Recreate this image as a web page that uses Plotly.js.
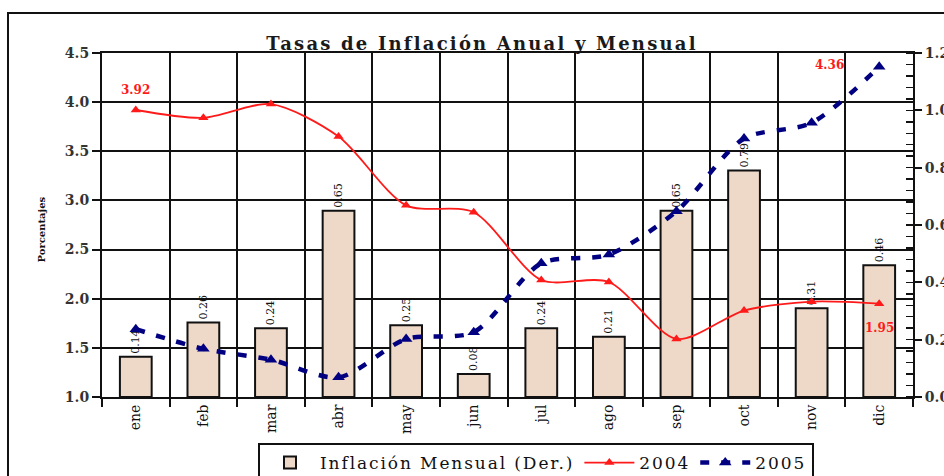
<!DOCTYPE html>
<html>
<head>
<meta charset="utf-8">
<script src="https://cdn.plot.ly/plotly-3.0.1.min.js"></script>
<style>
html,body{margin:0;padding:0;background:#fff;}
#chart{width:944px;height:476px;}
.gtitle{letter-spacing:2.2px;}
.legendtext{letter-spacing:1.9px;}
</style>
</head>
<body>
<div id="chart"></div>
<script>
const months = ["ene","feb","mar","abr","may","jun","jul","ago","sep","oct","nov","dic"];
const mensual = [0.14,0.26,0.24,0.65,0.25,0.08,0.24,0.21,0.65,0.79,0.31,0.46];
const anual2004 = [3.92,3.84,3.98,3.65,2.95,2.88,2.19,2.17,1.59,1.88,1.97,1.95];
const anual2005 = [1.69,1.49,1.38,1.20,1.59,1.66,2.36,2.45,2.89,3.63,3.79,4.36];
const leftTicks = [1.0,1.5,2.0,2.5,3.0,3.5,4.0,4.5];
const rightTicks = [0.0,0.2,0.4,0.6,0.8,1.0,1.2];

const serif = "DejaVu Serif, Liberation Serif, serif";
const RED = "#FF1A1A", NAVY = "#000080";

const traces = [
  {
    type: "bar", x: months, y: mensual, yaxis: "y", name: "Inflación Mensual (Der.)",
    width: 0.47,
    marker: {color: "#EED8C8", line: {color: "#111", width: 2}},
    text: mensual.map(v=>v.toFixed(2)), textposition: "outside", textangle: -90,
    textfont: {family: serif, size: 11, color: "#111"}, cliponaxis: false
  },
  {
    type: "scatter", mode: "lines+markers", x: months, y: anual2004, yaxis: "y2", name: "2004",
    line: {color: RED, width: 1.8, shape: "spline", smoothing: 0.8},
    marker: {symbol: "triangle-up", size: 9, color: RED}
  },
  {
    type: "scatter", mode: "lines+markers", x: months, y: anual2005, yaxis: "y2", name: "2005",
    line: {color: NAVY, width: 4.5, dash: "9px,12px", shape: "spline", smoothing: 0.8},
    marker: {symbol: "triangle-up", size: 11, color: NAVY}
  }
];

const L = 102, R = 913, T = 53, B = 397, W = 944, H = 476;
const pw = R - L, ph = B - T;
const px = x => (x - L) / pw;
const py = y => (B - y) / ph;
const last = months.length - 1;
const labFont = {family: serif, size: 12, color: RED, weight: "bold"};

const layout = {
  width: W, height: H,
  margin: {l: L, r: W - R, t: T, b: H - B, autoexpand: false},
  paper_bgcolor: "#fff", plot_bgcolor: "#fff",
  showlegend: true,
  title: {
    text: "Tasas de Inflación Anual y Mensual",
    font: {family: serif, size: 18, color: "#1a1a1a", weight: "bold"},
    x: 482 / W, xref: "container", xanchor: "center",
    y: 1 - 44 / H, yref: "container", yanchor: "middle"
  },
  xaxis: {
    type: "category", categoryorder: "array", categoryarray: months,
    tickson: "boundaries", showgrid: true, gridcolor: "#111", gridwidth: 2,
    ticks: "outside", ticklen: 8, tickwidth: 2, tickcolor: "#111",
    tickangle: -90, tickfont: {family: serif, size: 14, color: "#111"},
    showline: true, linecolor: "#111", linewidth: 2, mirror: true,
    range: [-0.5, 11.5], automargin: false
  },
  yaxis: {
    side: "right", range: [0, 1.2], tickvals: rightTicks, tickformat: ".1f",
    showgrid: false, zeroline: false,
    ticks: "outside", ticklen: 7, tickwidth: 2, tickcolor: "#111",
    minor: {dtick: 0.04, ticks: "inside", ticklen: 7, tickwidth: 1.5, tickcolor: "#111", showgrid: false},
    tickfont: {family: serif, size: 14, color: "#333", weight: "bold"},
    showline: true, linecolor: "#111", linewidth: 2, automargin: false
  },
  yaxis2: {
    side: "left", overlaying: "y", range: [1, 4.5], tickvals: leftTicks, tickformat: ".1f",
    showgrid: true, gridcolor: "#111", gridwidth: 2, zeroline: false,
    ticks: "outside", ticklen: 8, tickwidth: 2, tickcolor: "#111",
    tickfont: {family: serif, size: 14, color: "#333", weight: "bold"},
    showline: true, linecolor: "#111", linewidth: 2, automargin: false
  },
  legend: {
    orientation: "h", x: px(258), xanchor: "left", y: py(443), yanchor: "top",
    bordercolor: "#111", borderwidth: 2, bgcolor: "#fff", itemwidth: 50,
    font: {family: serif, size: 17, color: "#111"}, traceorder: "normal"
  },
  annotations: [
    {text: "Porcentajes", textangle: -90, xref: "paper", yref: "paper",
     x: px(33), y: py(230), showarrow: false,
     font: {family: serif, size: 10, color: "#111", weight: "bold"}},
    {text: anual2004[0].toFixed(2), xref: "x", yref: "y2", x: months[0], y: anual2004[0],
     showarrow: false, yshift: 20, font: labFont},
    {text: anual2004[last].toFixed(2), xref: "x", yref: "y2", x: months[last], y: anual2004[last],
     showarrow: false, yshift: -24, font: labFont},
    {text: anual2005[last].toFixed(2), xref: "x", yref: "y2", x: months[last], y: anual2005[last],
     showarrow: false, xshift: -50, yshift: 2, font: labFont}
  ],
  shapes: [
    {type: "rect", xref: "paper", yref: "paper", x0: px(8), x1: px(960), y0: py(500), y1: py(13),
     line: {color: "#111", width: 2}, fillcolor: "rgba(0,0,0,0)", layer: "below"}
  ]
};

Plotly.newPlot("chart", traces, layout, {displayModeBar: false, staticPlot: true});
</script>
</body>
</html>
